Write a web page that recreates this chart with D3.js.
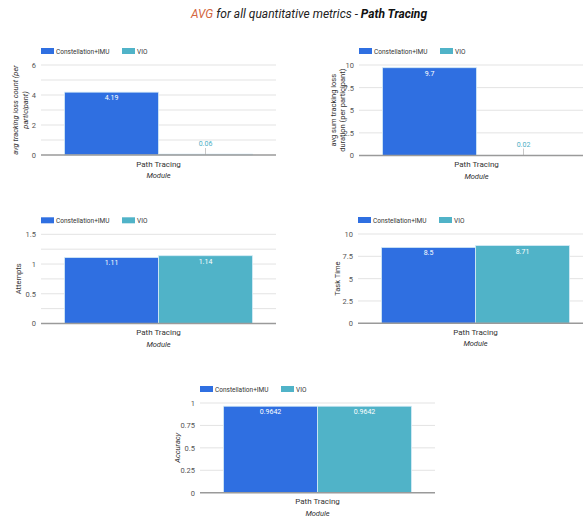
<!DOCTYPE html>
<html>
<head>
<meta charset="utf-8">
<script src="https://cdn.jsdelivr.net/npm/d3@7"></script>
<style>
  html, body { margin: 0; padding: 0; background: #fff; }
  svg { display: block; font-family: Roboto, "Noto Sans", sans-serif; }
</style>
</head>
<body>
<svg id="chart" width="583" height="518"></svg>
<script>
// ---- data ----
const categories = ["Path Tracing"];
const seriesNames = ["Constellation+IMU", "VIO"];

const trackingLossCount = [4.19, 0.06];
const trackingLossDuration = [9.7, 0.02];
const attempts = [1.11, 1.14];
const taskTime = [8.5, 8.71];
const accuracy = [0.9642, 0.9642];

const countTicks = [0, 2, 4, 6];
const countGrid = [0, 1, 2, 3, 4, 5, 6];
const durationTicks = [0, 2.5, 5, 7.5, 10];
const attemptsTicks = [0, 0.5, 1, 1.5];
const attemptsGrid = [0, 0.25, 0.5, 0.75, 1, 1.25, 1.5];
const taskTimeTicks = [0, 2.5, 5, 7.5, 10];
const accuracyTicks = [0, 0.25, 0.5, 0.75, 1];

const titleParts = [
  { text: "AVG", color: "#d4673f", weight: "normal" },
  { text: " for all quantitative metrics - ", color: "#222", weight: "normal" },
  { text: "Path Tracing", color: "#111", weight: "bold" }
];

// ---- style ----
const colors = ["#2f6fe1", "#50b3c8"];
const labelColors = ["#2f6fe1", "#4aaec4"];
const plotWidth = 235;

const panels = [
  { values: trackingLossCount, ticks: countTicks, grid: countGrid,
    yTitle: ["avg tracking loss count (per", "participant)"], italic: true,
    left: 41, top: 65, bottom: 155, titleX: [15, 25] },
  { values: trackingLossDuration, ticks: durationTicks, grid: durationTicks,
    yTitle: ["avg sum tracking loss", "duration (per participant)"], italic: false,
    left: 359, top: 65, bottom: 155.5, titleX: [333, 342] },
  { values: attempts, ticks: attemptsTicks, grid: attemptsGrid,
    yTitle: ["Attempts"], italic: false,
    left: 41, top: 234.3, bottom: 323.5, titleX: [18] },
  { values: taskTime, ticks: taskTimeTicks, grid: taskTimeTicks,
    yTitle: ["Task Time"], italic: false,
    left: 358, top: 234, bottom: 323.3, titleX: [337] },
  { values: accuracy, ticks: accuracyTicks, grid: accuracyTicks,
    yTitle: ["Accuracy"], italic: true,
    left: 200, top: 403, bottom: 492.7, titleX: [177] }
];

const svg = d3.select("#chart");

// chart title
const title = svg.append("text")
  .attr("x", 309).attr("y", 18)
  .attr("text-anchor", "middle")
  .attr("font-size", 12)
  .attr("font-style", "italic");
titleParts.forEach(p => {
  title.append("tspan").text(p.text).attr("fill", p.color).attr("font-weight", p.weight);
});

panels.forEach(p => {
  const g = svg.append("g");
  const ext = d3.extent(p.ticks);
  const y = d3.scaleLinear().domain(ext).range([p.bottom, p.top]);
  const x0 = d3.scaleBand().domain(categories).range([p.left, p.left + plotWidth])
    .paddingInner(0).paddingOuter(0.125);
  const x1 = d3.scaleBand().domain(seriesNames).range([0, x0.bandwidth()]).padding(0);

  // gridlines
  g.append("g").selectAll("line").data(p.grid.filter(v => v !== 0)).join("line")
    .attr("x1", p.left).attr("x2", p.left + plotWidth)
    .attr("y1", d => y(d)).attr("y2", d => y(d))
    .attr("stroke", "#e3e3e3").attr("stroke-width", 1);

  // y axis labels
  const yAxis = d3.axisLeft(y).tickValues(p.ticks).tickSize(0).tickPadding(5)
    .tickFormat(d => String(d));
  const ya = g.append("g").attr("transform", `translate(${p.left},0)`).call(yAxis);
  ya.select(".domain").remove();
  ya.selectAll("text").attr("font-size", 7.5).attr("fill", "#555")
    .attr("font-family", "Roboto, sans-serif");

  // bars
  categories.forEach(cat => {
    seriesNames.forEach((s, i) => {
      const v = p.values[i];
      const bx = x0(cat) + x1(s);
      const bw = x1.bandwidth();
      const by = y(v);
      g.append("rect")
        .attr("x", bx).attr("y", by)
        .attr("width", bw).attr("height", Math.max(0, p.bottom - by))
        .attr("fill", colors[i])
        .attr("stroke", "#d6ecf7").attr("stroke-width", 0.8);
      const cx = bx + bw / 2;
      if (p.bottom - by > 14) {
        g.append("text").attr("x", cx).attr("y", by + 8)
          .attr("text-anchor", "middle").attr("font-size", 7)
          .attr("fill", "#fff").text(String(v));
      } else {
        g.append("line").attr("x1", cx).attr("x2", cx)
          .attr("y1", p.bottom - 7).attr("y2", p.bottom)
          .attr("stroke", "#c8c8c8").attr("stroke-width", 1);
        g.append("text").attr("x", cx).attr("y", p.bottom - 9)
          .attr("text-anchor", "middle").attr("font-size", 7)
          .attr("fill", labelColors[i]).text(String(v));
      }
    });
  });

  // baseline
  g.append("line").attr("x1", p.left).attr("x2", p.left + plotWidth)
    .attr("y1", y(0)).attr("y2", y(0))
    .attr("stroke", "#9a9a9a").attr("stroke-width", 1.4);

  // category label and axis title
  categories.forEach(cat => {
    g.append("text").attr("x", x0(cat) + x0.bandwidth() / 2).attr("y", p.bottom + 11.5)
      .attr("text-anchor", "middle").attr("font-size", 8).attr("fill", "#333").text(cat);
  });
  g.append("text").attr("x", p.left + plotWidth / 2).attr("y", p.bottom + 23)
    .attr("text-anchor", "middle").attr("font-size", 7.5).attr("font-style", "italic")
    .attr("fill", "#333").text("Module");

  // y title
  const cy = (p.top + p.bottom) / 2;
  p.yTitle.forEach((line, k) => {
    g.append("text")
      .attr("transform", `translate(${p.titleX[k] + 2.5},${cy}) rotate(-90)`)
      .attr("text-anchor", "middle").attr("font-size", 7.5)
      .attr("font-style", p.italic ? "italic" : "normal")
      .attr("fill", "#333").text(line);
  });

  // legend
  const lg = g.append("g").attr("transform", `translate(${p.left},${p.top - 14})`);
  const offsets = [0, 81];
  seriesNames.forEach((s, i) => {
    lg.append("rect").attr("x", offsets[i]).attr("y", -3).attr("width", 13).attr("height", 6)
      .attr("fill", colors[i]);
    lg.append("text").attr("x", offsets[i] + 15).attr("y", 2.5)
      .attr("font-size", 6.5).attr("fill", "#333").text(s);
  });
});
</script>
</body>
</html>
